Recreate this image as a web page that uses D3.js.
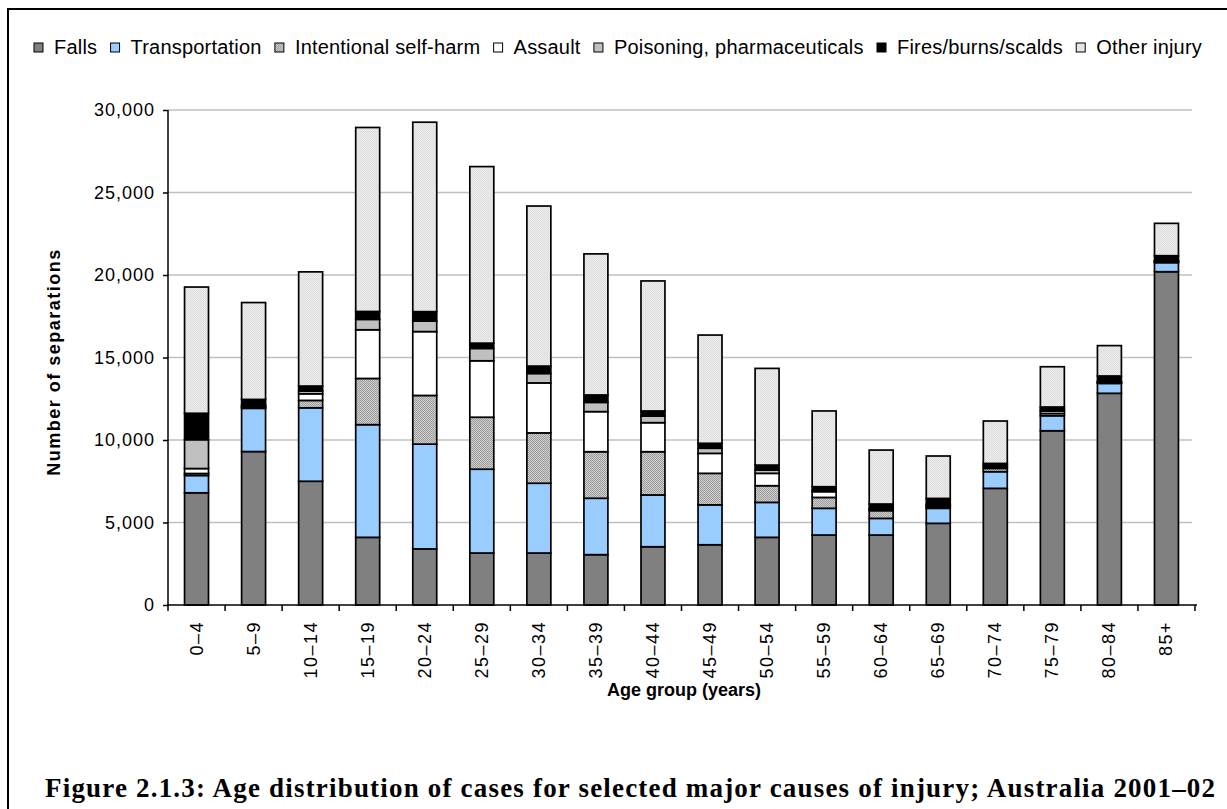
<!DOCTYPE html>
<meta charset="utf-8">
<style>
  body { margin: 0; background: #fff; }
  text { font-family: "Liberation Sans", Arial, sans-serif; fill: #000; }
  .grid line { stroke: #c0c0c0; stroke-width: 1.5px; }
  .seg { stroke: #000; stroke-width: 1.7px; }
</style>
<body>
<script src="https://d3js.org/d3.v7.min.js"></script>
<script>
  // age groups and values (number of separations) per cause
  var ageGroups = ["0\u20134", "5\u20139", "10\u201314", "15\u201319", "20\u201324", "25\u201329", "30\u201334", "35\u201339",
    "40\u201344", "45\u201349", "50\u201354", "55\u201359", "60\u201364", "65\u201369", "70\u201374", "75\u201379", "80\u201384", "85+"];
  var falls     = [6800, 9300, 7500, 4100, 3400, 3150, 3150, 3050, 3530, 3650, 4100, 4240, 4240, 4950, 7070, 10560, 12830, 20200];
  var transport = [1050, 2620, 4450, 6830, 6350, 5080, 4230, 3420, 3140, 2420, 2120, 1620, 1010, 910, 1010, 910, 600, 550];
  var selfHarm  = [120, 50, 450, 2800, 2950, 3150, 3050, 2820, 2620, 1910, 1010, 660, 470, 100, 200, 140, 50, 40];
  var assault   = [300, 60, 400, 2950, 3870, 3420, 3030, 2430, 1760, 1210, 750, 350, 60, 60, 100, 140, 30, 40];
  var poisoning = [1750, 80, 170, 630, 640, 750, 570, 560, 400, 310, 200, 60, 60, 80, 100, 100, 30, 40];
  var fires     = [1600, 350, 300, 480, 570, 320, 450, 450, 310, 300, 300, 240, 280, 360, 100, 150, 340, 300];
  var other     = [7650, 5870, 6920, 11150, 11480, 10700, 9700, 8550, 7880, 6560, 5860, 4590, 3270, 2570, 2570, 2440, 1840, 1960];

  var seriesNames = ["Falls", "Transportation", "Intentional self-harm", "Assault",
    "Poisoning, pharmaceuticals", "Fires/burns/scalds", "Other injury"];
  var yTicks = [0, 5000, 10000, 15000, 20000, 25000, 30000];

  var keys = ["falls", "transport", "selfHarm", "assault", "poisoning", "fires", "other"];
  var fills = ["#808080", "#99ccff", "url(#selfHarmPat)", "#ffffff", "#c0c0c0", "#000000", "url(#otherPat)"];

  var rows = ageGroups.map(function(a, i) {
    return { age: a, falls: falls[i], transport: transport[i], selfHarm: selfHarm[i], assault: assault[i],
      poisoning: poisoning[i], fires: fires[i], other: other[i] };
  });

  var W = 1227, H = 809;
  var svg = d3.select("body").append("svg")
    .attr("width", W)
    .attr("height", H);

  var defs = svg.append("defs");
  // dithered fills
  function checker(id, a, b) {
    var p = defs.append("pattern").attr("id", id)
      .attr("width", 2).attr("height", 2)
      .attr("patternUnits", "userSpaceOnUse");
    p.append("rect").attr("width", 2).attr("height", 2).attr("fill", a);
    p.append("rect").attr("width", 1).attr("height", 1).attr("fill", b);
    p.append("rect").attr("x", 1).attr("y", 1).attr("width", 1).attr("height", 1).attr("fill", b);
  }
  checker("selfHarmPat", "#cfcfcf", "#9c9c9c");
  checker("otherPat", "#ececec", "#dedede");

  // outer frame
  svg.append("rect")
    .attr("x", 8).attr("y", 9)
    .attr("width", 1240).attr("height", 900)
    .attr("fill", "none").attr("stroke", "#000").attr("stroke-width", 2);

  var x = d3.scaleBand().domain(ageGroups).range([168, 1195]).paddingInner(0.58).paddingOuter(0.29);
  var y = d3.scaleLinear().domain([0, 30000]).range([605, 110]);

  // gridlines
  svg.append("g").attr("class", "grid")
    .selectAll("line")
    .data(yTicks.slice(1))
    .enter().append("line")
    .attr("x1", 168).attr("x2", 1192)
    .attr("y1", function(d) { return y(d); })
    .attr("y2", function(d) { return y(d); });

  // stacked bars
  var stack = d3.stack().keys(keys)(rows);
  svg.append("g")
    .selectAll("g")
    .data(stack)
    .enter().append("g")
    .attr("fill", function(d, i) { return fills[i]; })
    .selectAll("rect")
    .data(function(d) { return d; })
    .enter().append("rect")
    .attr("class", "seg")
    .attr("x", function(d) { return x(d.data.age); })
    .attr("width", x.bandwidth())
    .attr("y", function(d) { return y(d[1]); })
    .attr("height", function(d) { return y(d[0]) - y(d[1]); });

  // y axis
  var yAxis = svg.append("g")
    .attr("transform", "translate(168,0)")
    .call(d3.axisLeft(y).tickValues(yTicks).tickSize(5).tickPadding(8)
      .tickFormat(d3.format(",")));
  yAxis.select(".domain").attr("d", "M0,110V611").attr("stroke-width", 1.5);
  yAxis.selectAll(".tick line").attr("stroke-width", 1.5);
  yAxis.selectAll("text")
    .style("font-size", "18px")
    .style("letter-spacing", "1px");

  // x axis
  var xg = svg.append("g");
  xg.append("line")
    .attr("x1", 167).attr("x2", 1197)
    .attr("y1", 605).attr("y2", 605)
    .attr("stroke", "#000").attr("stroke-width", 1.5);
  var step = x.step();
  xg.selectAll(".xtick")
    .data(ageGroups)
    .enter().append("line")
    .attr("class", "xtick")
    .attr("x1", function(d) { return x(d) + x.bandwidth() / 2 + step / 2; })
    .attr("x2", function(d) { return x(d) + x.bandwidth() / 2 + step / 2; })
    .attr("y1", 605).attr("y2", 611)
    .attr("stroke", "#000").attr("stroke-width", 1.5);
  xg.selectAll(".xlab")
    .data(ageGroups)
    .enter().append("text")
    .attr("class", "xlab")
    .attr("transform", function(d) {
      return "translate(" + (x(d) + x.bandwidth() / 2 + 6) + ",621) rotate(-90)";
    })
    .attr("text-anchor", "end")
    .style("font-size", "18px")
    .style("letter-spacing", "1.5px")
    .text(function(d) { return d; });

  // axis titles
  svg.append("text")
    .attr("transform", "translate(60,362) rotate(-90)")
    .attr("text-anchor", "middle")
    .style("font-size", "18px")
    .style("font-weight", "bold")
    .style("letter-spacing", "1.5px")
    .text("Number of separations");
  svg.append("text")
    .attr("x", 684).attr("y", 696)
    .attr("text-anchor", "middle")
    .style("font-size", "18px")
    .style("font-weight", "bold")
    .text("Age group (years)");

  // legend
  var legend = svg.append("g");
  var items = legend.selectAll("g")
    .data(seriesNames)
    .enter().append("g");
  items.append("rect")
    .attr("width", 9).attr("height", 9)
    .attr("y", 43)
    .attr("fill", function(d, i) { return fills[i]; })
    .attr("stroke", "#000").attr("stroke-width", 1);
  items.append("text")
    .attr("x", 20).attr("y", 54)
    .style("font-size", "20px")
    .style("letter-spacing", "0.2px")
    .text(function(d) { return d; });
  var widths = [];
  items.each(function() { widths.push(d3.select(this).select("text").node().getComputedTextLength() + 20); });
  var total = d3.sum(widths);
  var gap = (1202 - 34 - total) / (seriesNames.length - 1);
  var pos = 34;
  items.attr("transform", function(d, i) {
    var t = "translate(" + pos + ",0)";
    pos += widths[i] + gap;
    return t;
  });

  // caption
  svg.append("text")
    .attr("x", 45).attr("y", 797)
    .attr("textLength", 1170)
    .attr("lengthAdjust", "spacing")
    .style("font-family", "'Liberation Serif', serif")
    .style("font-size", "27px")
    .style("font-weight", "bold")
    .text("Figure 2.1.3: Age distribution of cases for selected major causes of injury; Australia 2001\u201302");
</script>
</body>
